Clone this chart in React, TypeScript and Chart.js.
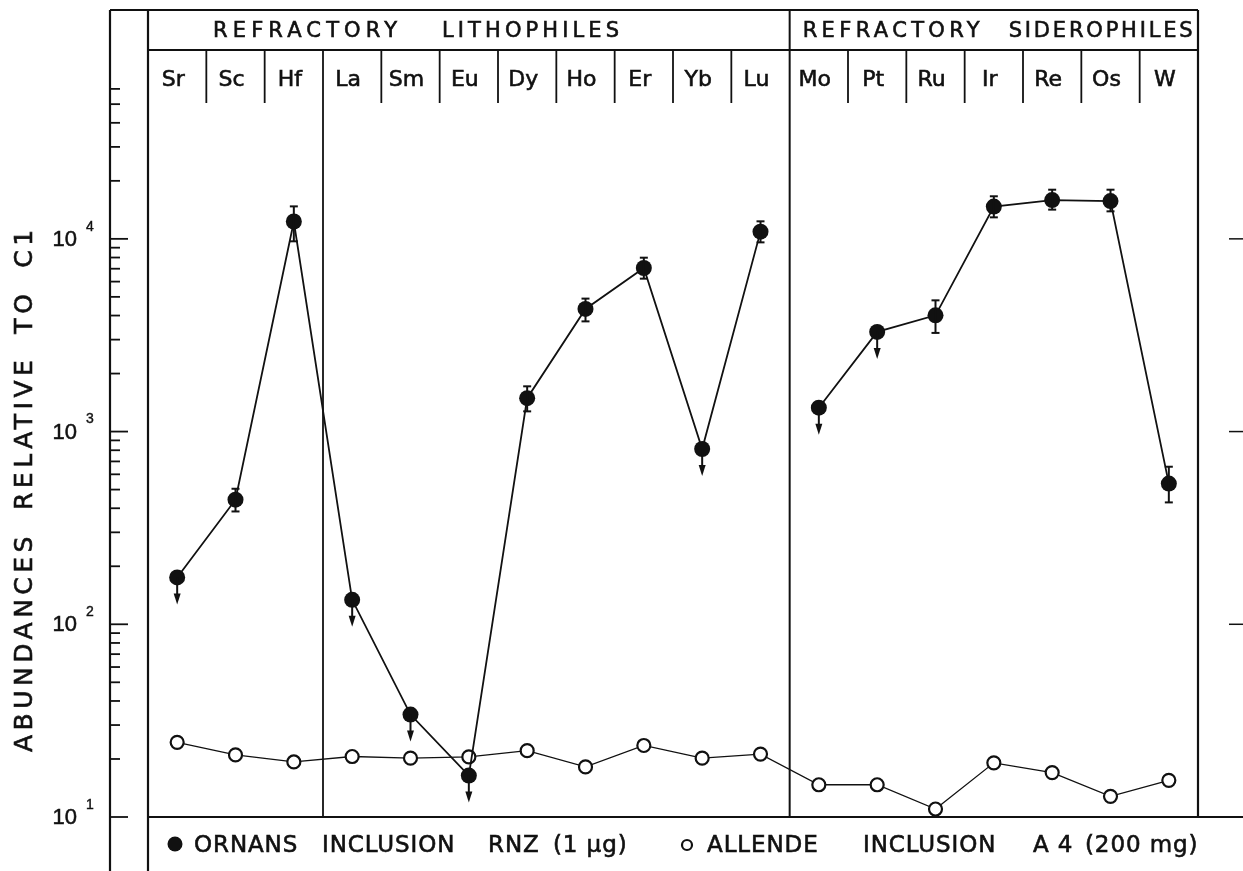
import { useEffect, useRef } from 'react';
import { Chart, registerables } from 'chart.js';

Chart.register(...registerables);

// ---------- data ----------
const ELEMENTS = ['Sr', 'Sc', 'Hf', 'La', 'Sm', 'Eu', 'Dy', 'Ho', 'Er', 'Yb', 'Lu', 'Mo', 'Pt', 'Ru', 'Ir', 'Re', 'Os', 'W'];
const GROUP_TITLES = [['REFRACTORY', 'LITHOPHILES'], ['REFRACTORY', 'SIDEROPHILES']];
const GROUP_SIZES = [11, 7];
const SUBGROUP_ENDS = [2]; // full-height divider after Hf

const ORNANS = [175, 443, 12300, 134, 34, 16.4, 1490, 4330, 7060, 812, 10900, 1330, 3290, 4010, 14700, 15900, 15700, 537];
const ORNANS_UPPER_LIMIT = [true, false, false, true, true, true, false, false, false, true, false, true, true, false, false, false, false, false];
const ORNANS_ERR_LOW = [null, 385, 9710, null, null, null, 1273, 3731, 6215, null, 9590, null, null, 3250, 12930, 14180, 13890, 429];
const ORNANS_ERR_HIGH = [null, 505, 14740, null, null, null, 1717, 4897, 7985, null, 12330, null, null, 4797, 16630, 17990, 17990, 657];
const ALLENDE = [24.4, 21.0, 19.3, 20.6, 20.2, 20.5, 22.1, 18.2, 23.5, 20.2, 21.2, 14.7, 14.7, 11.0, 19.1, 17.0, 12.8, 15.5];

const Y_MIN = 10;
const Y_MAX = 154000;
const Y_DECADES = [10, 100, 1000, 10000];
const Y_DECADE_EXPONENTS = ['1', '2', '3', '4'];
const Y_MINOR_LIMIT = 60000;
const RIGHT_TICK_DECADES = [100, 1000, 10000];

const Y_TITLE_WORDS = ['ABUNDANCES', 'RELATIVE', 'TO', 'C1'];
const LEGEND_ORNANS = ['ORNANS', 'INCLUSION', 'RNZ', '(1 μg)'];
const LEGEND_ALLENDE = ['ALLENDE', 'INCLUSION', 'A 4', '(200 mg)'];

// ---------- helpers ----------
const INK = '#111';
const FONT = '"DejaVu Sans", "Liberation Sans", sans-serif';

function seg(ctx: CanvasRenderingContext2D, x1: number, y1: number, x2: number, y2: number, w = 2) {
  ctx.lineWidth = w;
  ctx.beginPath();
  ctx.moveTo(x1, y1);
  ctx.lineTo(x2, y2);
  ctx.stroke();
}

function text(ctx: CanvasRenderingContext2D, s: string, x: number, y: number, size: number, align: CanvasTextAlign = 'left', spacing = 0, family = FONT, bold = 0.6) {
  ctx.font = `${size}px ${family}`;
  (ctx as any).letterSpacing = `${spacing}px`;
  ctx.textAlign = align;
  ctx.textBaseline = 'middle';
  ctx.fillText(s, x, y);
  if (bold > 0) {
    ctx.lineWidth = bold;
    ctx.strokeText(s, x, y);
  }
  (ctx as any).letterSpacing = '0px';
}

// draw text stretched (via letter spacing) to a target width
function fitText(ctx: CanvasRenderingContext2D, s: string, x: number, y: number, size: number, width: number) {
  ctx.font = `${size}px ${FONT}`;
  (ctx as any).letterSpacing = '0px';
  const w = ctx.measureText(s).width;
  const sp = s.length > 1 ? (width - w) / (s.length - 1) : 0;
  text(ctx, s, x, y, size, 'left', sp);
}

const groupEnds = () => {
  const ends: number[] = [];
  let acc = 0;
  GROUP_SIZES.forEach((n) => { acc += n; ends.push(acc - 1); });
  return ends;
};

const framePlugin = {
  id: 'frame',
  beforeDatasetsDraw(chart: any) {
    const { ctx, chartArea: ca, scales } = chart;
    const xs = scales.x, ys = scales.y;
    const L = ca.left, R = ca.right, T = ca.top, B = ca.bottom;
    const W = chart.width, H = chart.height;
    const axisX = L - 38;
    const rowY = T + 40;
    const elemBottom = T + 93;
    ctx.save();
    ctx.strokeStyle = INK;
    ctx.fillStyle = INK;

    // frame lines
    seg(ctx, axisX, T, axisX, H, 2.2);
    seg(ctx, L, T, L, H, 2.2);
    seg(ctx, axisX, T, R, T, 2);
    seg(ctx, R, T, R, B, 2.2);
    seg(ctx, L, B, W, B, 2.2);
    seg(ctx, L, rowY, R, rowY, 2);

    // column dividers
    const gEnds = groupEnds();
    for (let i = 0; i < ELEMENTS.length - 1; i++) {
      const bx = (xs.getPixelForValue(i) + xs.getPixelForValue(i + 1)) / 2;
      if (gEnds.includes(i)) seg(ctx, bx, T, bx, B, 2);
      else if (SUBGROUP_ENDS.includes(i)) seg(ctx, bx, rowY, bx, B, 1.8);
      else seg(ctx, bx, rowY, bx, elemBottom, 1.8);
    }

    // group titles
    const wordOffsets = [[65, 294], [13, 219]];
    const wordWidths = [[184, 177], [177, 184]];
    const colW = xs.getPixelForValue(1) - xs.getPixelForValue(0);
    let start = 0;
    GROUP_SIZES.forEach((n, g) => {
      const gl = xs.getPixelForValue(start) - colW / 2;
      GROUP_TITLES[g].forEach((w, k) => fitText(ctx, w, gl + wordOffsets[g][k], T + 22, 21, wordWidths[g][k]));
      start += n;
    });

    // element labels
    ELEMENTS.forEach((el, i) => text(ctx, el, xs.getPixelForValue(i) - 4, T + 70, 22, 'center'));

    // left axis ticks
    Y_DECADES.forEach((d) => {
      for (let m = 1; m <= 9; m++) {
        const v = d * m;
        if (v > Y_MINOR_LIMIT) continue;
        const yy = ys.getPixelForValue(v);
        seg(ctx, axisX, yy, axisX + (m === 1 ? 18 : 10), yy, 1.8);
      }
    });
    // decade labels
    Y_DECADES.forEach((d, k) => {
      const yy = ys.getPixelForValue(d);
      text(ctx, '10', axisX - 33, yy + 1, 22, 'right', 0, '"Liberation Sans", sans-serif', 0.5);
      text(ctx, Y_DECADE_EXPONENTS[k], axisX - 24, yy - 12, 14, 'left', 0, '"Liberation Sans", sans-serif', 0.4);
    });
    // right-edge ticks
    RIGHT_TICK_DECADES.forEach((d) => {
      const yy = ys.getPixelForValue(d);
      seg(ctx, R + 31, yy, R + 45, yy, 1.5);
    });

    // y title (rotated)
    ctx.save();
    ctx.translate(25, 752);
    ctx.rotate(-Math.PI / 2);
    let pos = 0;
    Y_TITLE_WORDS.forEach((w) => {
      text(ctx, w, pos, 0, 25, 'left', 4.5);
      ctx.font = `25px ${FONT}`;
      (ctx as any).letterSpacing = '4.5px';
      pos += ctx.measureText(w).width + 22;
      (ctx as any).letterSpacing = '0px';
    });
    ctx.restore();

    // legend
    const ly = B + 29;
    ctx.beginPath();
    ctx.arc(175, ly - 2, 7.5, 0, Math.PI * 2);
    ctx.fill();
    const ornX = [194, 322, 488, 553];
    LEGEND_ORNANS.forEach((w, k) => text(ctx, w, ornX[k], ly, 23, 'left', 0.9));
    ctx.lineWidth = 2.2;
    ctx.beginPath();
    ctx.arc(687, ly - 1, 5, 0, Math.PI * 2);
    ctx.stroke();
    const allX = [707, 863, 1033, 1085];
    LEGEND_ALLENDE.forEach((w, k) => text(ctx, w, allX[k], ly, 23, 'left', 0.9));

    ctx.restore();
  },
  afterDatasetsDraw(chart: any) {
    const { ctx, scales } = chart;
    const xs = scales.x, ys = scales.y;
    ctx.save();
    ctx.strokeStyle = INK;
    ctx.fillStyle = INK;
    ORNANS.forEach((v, i) => {
      const xp = xs.getPixelForValue(i);
      const lo = ORNANS_ERR_LOW[i], hi = ORNANS_ERR_HIGH[i];
      if (lo != null && hi != null) {
        const yl = ys.getPixelForValue(lo), yh = ys.getPixelForValue(hi);
        seg(ctx, xp, yh, xp, yl, 2);
        seg(ctx, xp - 4, yh, xp + 4, yh, 2);
        seg(ctx, xp - 4, yl, xp + 4, yl, 2);
      }
      if (ORNANS_UPPER_LIMIT[i]) {
        const yp = ys.getPixelForValue(v);
        seg(ctx, xp, yp, xp, yp + 20, 2);
        ctx.beginPath();
        ctx.moveTo(xp - 3.5, yp + 16);
        ctx.lineTo(xp + 3.5, yp + 16);
        ctx.lineTo(xp, yp + 27);
        ctx.closePath();
        ctx.fill();
      }
    });
    ctx.restore();
  },
};

export default function App() {
  const ref = useRef<HTMLCanvasElement>(null);
  useEffect(() => {
    const gEnds = groupEnds();
    const chart = new Chart(ref.current as HTMLCanvasElement, {
      type: 'line',
      data: {
        labels: ELEMENTS,
        datasets: [
          {
            label: LEGEND_ORNANS.join(' '),
            data: ORNANS,
            borderColor: INK,
            borderWidth: 1.8,
            pointRadius: 8,
            pointBackgroundColor: INK,
            pointBorderColor: INK,
            pointBorderWidth: 0,
            tension: 0,
            segment: {
              borderColor: (c: any) => (gEnds.includes(c.p0DataIndex) ? 'rgba(0,0,0,0)' : INK),
            },
          },
          {
            label: LEGEND_ALLENDE.join(' '),
            data: ALLENDE,
            borderColor: INK,
            borderWidth: 1.3,
            pointRadius: 6.5,
            pointBackgroundColor: '#fff',
            pointBorderColor: INK,
            pointBorderWidth: 2.2,
            tension: 0,
          },
        ],
      },
      options: {
        responsive: false,
        animation: false,
        layout: { padding: { left: 148, right: 45, top: 10, bottom: 54 } },
        plugins: { legend: { display: false }, tooltip: { enabled: false } },
        scales: {
          x: { type: 'category', offset: true, display: false },
          y: { type: 'logarithmic', min: Y_MIN, max: Y_MAX, display: false },
        },
      },
      plugins: [framePlugin],
    });
    return () => chart.destroy();
  }, []);
  return (
    <div style={{ position: 'absolute', left: 0, top: 0, width: 1243, height: 871, background: '#fff' }}>
      <canvas ref={ref} width={1243} height={871} style={{ display: 'block' }} />
    </div>
  );
}
